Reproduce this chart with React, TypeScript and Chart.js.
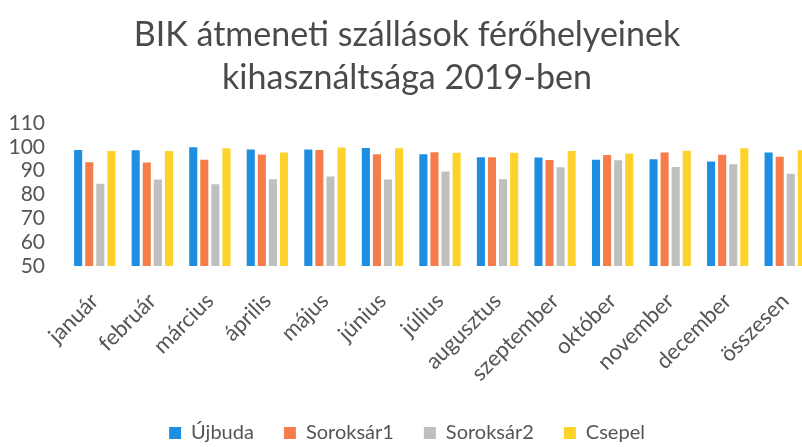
import React, { useEffect, useRef } from "react";
import { Chart, registerables } from "chart.js";

Chart.register(...registerables);

const categories = [
  "január", "február", "március", "április", "május", "június", "július",
  "augusztus", "szeptember", "október", "november", "december", "összesen",
];
const ujbuda = [98.7, 98.6, 99.8, 98.9, 98.9, 99.5, 96.9, 95.6, 95.5, 94.6, 94.8, 93.8, 97.6];
const soroksar1 = [93.5, 93.4, 94.6, 96.8, 98.7, 96.9, 97.7, 95.6, 94.5, 96.6, 97.6, 96.7, 95.8];
const soroksar2 = [84.5, 86.3, 84.3, 86.4, 87.6, 86.3, 89.7, 86.4, 91.4, 94.4, 91.5, 92.7, 88.7];
const csepel = [98.3, 98.3, 99.4, 97.6, 99.7, 99.4, 97.5, 97.5, 98.3, 97.2, 98.4, 99.4, 98.6];
const yTicks = [50, 60, 70, 80, 90, 100, 110];
const titleLines = ["BIK átmeneti szállások férőhelyeinek", "kihasználtsága 2019-ben"];

const FONT = "Lato, 'Open Sans', sans-serif";
const TEXT = "#555555";

export default function App() {
  const ref = useRef<HTMLCanvasElement | null>(null);
  useEffect(() => {
    if (!ref.current) return;
    const chart = new Chart(ref.current, {
      type: "bar",
      data: {
        labels: categories,
        datasets: [
          { label: "Újbuda", data: ujbuda, backgroundColor: "#1e8fe0" },
          { label: "Soroksár1", data: soroksar1, backgroundColor: "#f67d4a" },
          { label: "Soroksár2", data: soroksar2, backgroundColor: "#bfbfbf" },
          { label: "Csepel", data: csepel, backgroundColor: "#fdd22a" },
        ],
      },
      options: {
        animation: false,
        responsive: false,
        devicePixelRatio: 1,
        layout: { padding: { left: 0, right: 16, top: 0, bottom: -6 } },
        datasets: { bar: { categoryPercentage: 0.77, barPercentage: 0.73 } },
        plugins: {
          title: {
            display: true,
            text: titleLines,
            color: "#4a4a4a",
            font: { family: FONT, size: 34, weight: "normal", lineHeight: 1.25 },
            padding: { top: 14, bottom: 24 },
          },
          legend: {
            position: "bottom",
            labels: {
              color: TEXT,
              font: { family: FONT, size: 20 },
              boxWidth: 12,
              boxHeight: 12,
              padding: 30,
            },
          },
          tooltip: { enabled: false },
        },
        scales: {
          x: {
            grid: { display: false },
            border: { display: false },
            ticks: {
              color: TEXT,
              font: { family: FONT, size: 22 },
              minRotation: 45,
              maxRotation: 45,
              padding: 14,
              autoSkip: false,
            },
            afterFit: (s: any) => { s.height = 127; },
          },
          y: {
            min: 50,
            max: 110,
            grid: { display: false },
            border: { display: false },
            afterBuildTicks: (s: any) => { s.ticks = yTicks.map((v) => ({ value: v })); },
            ticks: {
              color: TEXT,
              font: { family: FONT, size: 21 },
              padding: 13,
              autoSkip: false,
            },
            afterFit: (s: any) => { s.width = 66; },
          },
        },
      },
    });
    return () => chart.destroy();
  }, []);
  return (
    <div style={{ position: "fixed", left: 0, top: 0, width: 802, height: 447, overflow: "hidden", background: "#fff" }}>
      <canvas ref={ref} width={830} height={447} style={{ display: "block" }} />
    </div>
  );
}
